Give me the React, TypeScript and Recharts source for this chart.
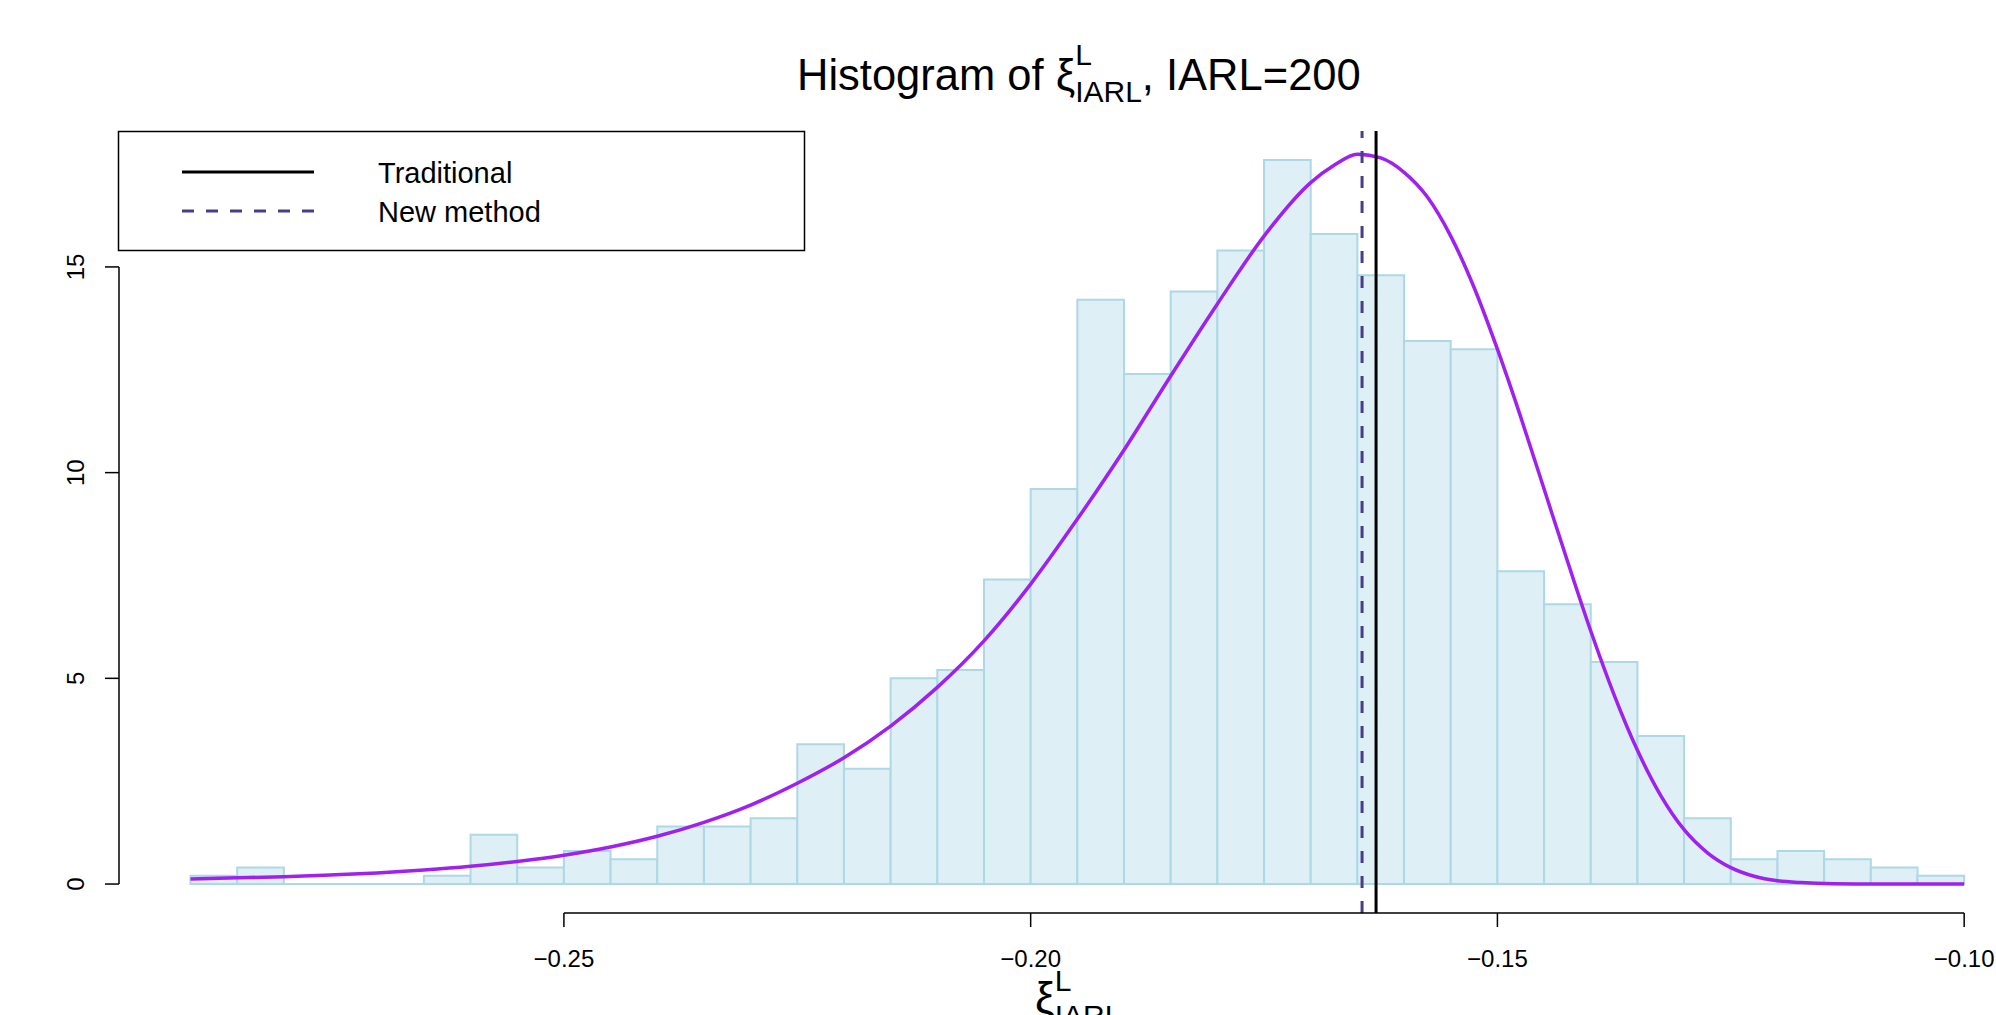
import {
  ComposedChart,
  Line,
  ReferenceArea,
  ReferenceLine,
  XAxis,
  YAxis,
} from "recharts";

// histogram bins (left edges) and densities
const binLeft = [
  -0.29, -0.285, -0.28, -0.275, -0.27, -0.265, -0.26, -0.255, -0.25, -0.245,
  -0.24, -0.235, -0.23, -0.225, -0.22, -0.215, -0.21, -0.205, -0.2, -0.195,
  -0.19, -0.185, -0.18, -0.175, -0.17, -0.165, -0.16, -0.155, -0.15, -0.145,
  -0.14, -0.135, -0.13, -0.125, -0.12, -0.115, -0.11, -0.105,
];
const binDensity = [
  0.2, 0.4, 0, 0, 0, 0.2, 1.2, 0.4, 0.8, 0.6,
  1.4, 1.4, 1.6, 3.4, 2.8, 5.0, 5.2, 7.4, 9.6, 14.2,
  12.4, 14.4, 15.4, 17.6, 15.8, 14.8, 13.2, 13.0, 7.6, 6.8,
  5.4, 3.6, 1.6, 0.6, 0.8, 0.6, 0.4, 0.2,
];
const binWidth = 0.005;

// fitted density curve
const curveX = [
  -0.29, -0.285, -0.28, -0.275, -0.27, -0.265, -0.26, -0.255, -0.25, -0.245,
  -0.24, -0.235, -0.23, -0.225, -0.22, -0.215, -0.21, -0.205, -0.2, -0.195,
  -0.19, -0.185, -0.18, -0.175, -0.17, -0.1675, -0.165, -0.1625, -0.16, -0.1575,
  -0.155, -0.1525, -0.15, -0.1475, -0.145, -0.1425, -0.14, -0.1375, -0.135, -0.1325,
  -0.13, -0.1275, -0.125, -0.1225, -0.12, -0.1175, -0.115, -0.11, -0.105, -0.1,
];
const curveY = [
  0.12, 0.15, 0.18, 0.22, 0.27, 0.34, 0.43, 0.55, 0.7, 0.9,
  1.16, 1.5, 1.92, 2.45, 3.07, 3.84, 4.78, 5.91, 7.29, 8.87,
  10.55, 12.35, 14.1, 15.75, 17.05, 17.47, 17.74, 17.65, 17.3, 16.7,
  15.75, 14.5, 13.0, 11.35, 9.6, 7.85, 6.15, 4.6, 3.25, 2.15,
  1.32, 0.76, 0.4, 0.19, 0.08, 0.035, 0.015, 0.003, 0, 0,
];

const xTicks = [-0.25, -0.2, -0.15, -0.1];
const yTicks = [0, 5, 10, 15];

const traditionalValue = -0.163;
const newMethodValue = -0.1645;

const xDomain = [-0.29766, -0.09659];
const yDomain = [-0.704, 18.304];

const FONT = "'Liberation Sans', Arial, Helvetica, sans-serif";

const curveData = curveX.map((x, i) => ({ x, density: curveY[i] }));

const fmtTick = (v: number) =>
  (v < 0 ? "\u2212" : "") + Math.abs(v).toFixed(2);

const XTick = (props: any) => {
  const { x, payload } = props;
  return (
    <text x={x} y={967} textAnchor="middle" fontSize={24} fontFamily={FONT} fill="#000">
      {fmtTick(payload.value)}
    </text>
  );
};

const YTick = (props: any) => {
  const { y, payload } = props;
  const cx = 84;
  return (
    <text
      x={cx}
      y={y}
      transform={`rotate(-90 ${cx} ${y})`}
      textAnchor="middle"
      fontSize={24}
      fontFamily={FONT}
      fill="#000"
    >
      {payload.value}
    </text>
  );
};

function Overlay() {
  return (
    <svg
      width={1996}
      height={1015}
      style={{ position: "absolute", left: 0, top: 0, pointerEvents: "none" }}
    >
      {/* title: Histogram of xi^L_IARL, IARL=200 */}
      <text x={797} y={90} fontSize={43.5} fontFamily={FONT} fill="#000">
        Histogram of ξ
        <tspan fontSize={30} dy={-25}>L</tspan>
        <tspan fontSize={30} dx={-16.7} dy={37}>IARL</tspan>
        <tspan fontSize={43.5} dy={-12}>, IARL=200</tspan>
      </text>

      {/* x label */}
      <text x={1035} y={1013} fontSize={44} fontFamily={FONT} fill="#000">
        ξ
        <tspan fontSize={30} dy={-22}>L</tspan>
        <tspan fontSize={30} dx={-16.7} dy={35}>IARL</tspan>
      </text>

      {/* legend */}
      <rect x={118.5} y={131.5} width={686} height={119} fill="#fff" stroke="#000" strokeWidth={1.5} />
      <line x1={182} x2={314} y1={172} y2={172} stroke="#000" strokeWidth={3} />
      <line
        x1={182}
        x2={314}
        y1={211}
        y2={211}
        stroke="#483D8B"
        strokeWidth={3}
        strokeDasharray="12 12"
      />
      <text x={378} y={183} fontSize={29} fontFamily={FONT} fill="#000">
        Traditional
      </text>
      <text x={378} y={222} fontSize={29} fontFamily={FONT} fill="#000">
        New method
      </text>
    </svg>
  );
}

export default function App() {
  return (
    <div style={{ position: "absolute", left: 0, top: 0, width: 1996, height: 1015, overflow: "hidden", background: "#fff" }}>
      <ComposedChart
        width={1996}
        height={1015}
        data={curveData}
        margin={{ top: 131, right: 0, bottom: 0, left: 0 }}
      >
        <XAxis
          dataKey="x"
          type="number"
          domain={xDomain}
          allowDataOverflow
          ticks={xTicks}
          interval={0}
          height={102}
          axisLine={false}
          tickLine={{ stroke: "#000", strokeWidth: 1.5 }}
          tickSize={14}
          tick={<XTick />}
        />
        <YAxis
          type="number"
          domain={yDomain}
          allowDataOverflow
          ticks={yTicks}
          interval={0}
          width={119}
          axisLine={false}
          tickLine={{ stroke: "#000", strokeWidth: 1.5 }}
          tickSize={14}
          tick={<YTick />}
        />
        {binLeft.map((left, i) => (
          <ReferenceArea
            key={i}
            x1={left}
            x2={left + binWidth}
            y1={0}
            y2={binDensity[i]}
            fill="#DEEFF5"
            fillOpacity={1}
            stroke="#ADD8E6"
            strokeWidth={2}
            ifOverflow="visible"
          />
        ))}
        <ReferenceLine
          segment={[
            { x: binLeft[0], y: 0 },
            { x: binLeft[binLeft.length - 1] + binWidth, y: 0 },
          ]}
          stroke="#ADD8E6"
          strokeWidth={2}
          ifOverflow="visible"
        />
        <Line
          dataKey="density"
          type="monotone"
          stroke="#A020F0"
          strokeWidth={3.5}
          dot={false}
          isAnimationActive={false}
        />
        <ReferenceLine
          x={newMethodValue}
          stroke="#483D8B"
          strokeWidth={3}
          strokeDasharray="12 13"
        />
        <ReferenceLine x={traditionalValue} stroke="#000" strokeWidth={3} />
        {/* axis lines span only the tick range, as in base R */}
        <ReferenceLine
          segment={[
            { x: xTicks[0], y: yDomain[0] },
            { x: xTicks[xTicks.length - 1], y: yDomain[0] },
          ]}
          stroke="#000"
          strokeWidth={1.5}
          ifOverflow="visible"
        />
        <ReferenceLine
          segment={[
            { x: xDomain[0], y: yTicks[0] },
            { x: xDomain[0], y: yTicks[yTicks.length - 1] },
          ]}
          stroke="#000"
          strokeWidth={1.5}
          ifOverflow="visible"
        />
      </ComposedChart>
      <Overlay />
    </div>
  );
}
